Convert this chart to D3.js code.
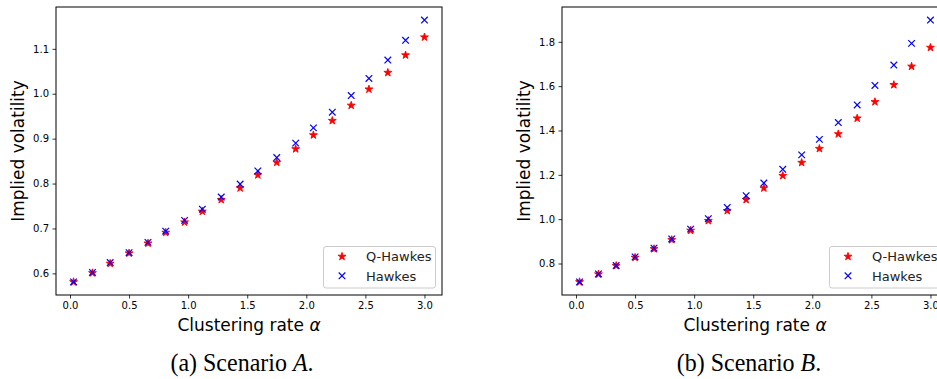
<!DOCTYPE html>
<html>
<head>
<meta charset="utf-8">
<script src="https://cdn.jsdelivr.net/npm/d3@7"></script>
<style>
  html, body { margin: 0; padding: 0; background: #fff; }
  svg { display: block; }
  .tick text { font-family: "DejaVu Sans", sans-serif; font-size: 10px; fill: #000; }
</style>
</head>
<body>
<svg id="fig" width="937" height="379"></svg>
<script>
// Clustering rate alpha (shared by both scenarios)
const alpha = [0.03, 0.19, 0.34, 0.50, 0.66, 0.81, 0.97, 1.12, 1.28, 1.44,
               1.59, 1.75, 1.91, 2.06, 2.22, 2.38, 2.53, 2.69, 2.84, 3.00];

// Scenario A implied volatilities
const qHawkesA = [0.581, 0.601, 0.622, 0.645, 0.667, 0.691, 0.714, 0.738, 0.764, 0.790,
                  0.819, 0.847, 0.877, 0.908, 0.940, 0.974, 1.010, 1.047, 1.086, 1.126];
const hawkesA  = [0.581, 0.602, 0.624, 0.646, 0.669, 0.694, 0.718, 0.743, 0.770, 0.799,
                  0.828, 0.858, 0.890, 0.924, 0.959, 0.996, 1.034, 1.075, 1.119, 1.164];

// Scenario B implied volatilities
const qHawkesB = [0.717, 0.752, 0.790, 0.827, 0.866, 0.907, 0.949, 0.993, 1.038, 1.088,
                  1.140, 1.196, 1.255, 1.318, 1.384, 1.455, 1.529, 1.606, 1.689, 1.774];
const hawkesB  = [0.717, 0.753, 0.791, 0.830, 0.869, 0.911, 0.955, 1.002, 1.053, 1.106,
                  1.163, 1.225, 1.290, 1.360, 1.436, 1.515, 1.603, 1.695, 1.793, 1.898];

// Tick values
const xTicks  = [0.0, 0.5, 1.0, 1.5, 2.0, 2.5, 3.0];
const yTicksA = [0.6, 0.7, 0.8, 0.9, 1.0, 1.1];
const yTicksB = [0.8, 1.0, 1.2, 1.4, 1.6, 1.8];

const seriesNames = ["Q-Hawkes", "Hawkes"];
const captions = [["(a) Scenario ", "A", "."], ["(b) Scenario ", "B", "."]];

const svg = d3.select("#fig");

// pad an extent by 5% on each side
function padded(values) {
  const [lo, hi] = d3.extent(values);
  const m = (hi - lo) * 0.05;
  return [lo - m, hi + m];
}

const starPath = d3.symbol(d3.symbolStar).size(19)();
const crossPath = "M-3.3,-3.3L3.3,3.3M-3.3,3.3L3.3,-3.3";

function drawStar(sel) {
  sel.attr("d", starPath).attr("fill", "#ff0000")
    .attr("stroke", "#ff0000").attr("stroke-width", 0.9).attr("stroke-linejoin", "miter");
}
function drawCross(sel) {
  sel.attr("d", crossPath).attr("fill", "none")
    .attr("stroke", "#0000ff").attr("stroke-width", 1.2);
}

function panel(opts) {
  const { left, width, top, height, q, h, yTicks, caption, captionX } = opts;
  const g = svg.append("g");

  const x = d3.scaleLinear().domain(padded(alpha)).range([left, left + width]);
  const y = d3.scaleLinear().domain(padded(q.concat(h))).range([top + height, top]);

  // axes
  const xAxis = d3.axisBottom(x).tickValues(xTicks).tickFormat(d3.format(".1f"))
    .tickSizeInner(3.5).tickSizeOuter(0).tickPadding(3.5);
  const yAxis = d3.axisLeft(y).tickValues(yTicks).tickFormat(d3.format(".1f"))
    .tickSizeInner(3.5).tickSizeOuter(0).tickPadding(3.5);

  const gx = g.append("g").attr("transform", `translate(0,${top + height})`).call(xAxis);
  const gy = g.append("g").attr("transform", `translate(${left},0)`).call(yAxis);
  [gx, gy].forEach(a => {
    a.select(".domain").remove();
    a.selectAll(".tick line").attr("stroke", "#000").attr("stroke-width", 0.8);
  });

  // frame
  g.append("rect")
    .attr("x", left).attr("y", top).attr("width", width).attr("height", height)
    .attr("fill", "none").attr("stroke", "#000").attr("stroke-width", 1);

  // Q-Hawkes stars
  g.append("g").selectAll("path").data(alpha).join("path")
    .call(drawStar)
    .attr("transform", (d, i) => `translate(${x(d)},${y(q[i])})`);

  // Hawkes crosses
  g.append("g").selectAll("path").data(alpha).join("path")
    .call(drawCross)
    .attr("transform", (d, i) => `translate(${x(d)},${y(h[i])})`);

  // legend (lower right)
  const lw = 112, lh = 41.5;
  const lx = left + width - 6.5 - lw, ly = top + height - 7 - lh;
  const lg = g.append("g");
  lg.append("rect").attr("x", lx).attr("y", ly).attr("width", lw).attr("height", lh)
    .attr("rx", 2.5).attr("fill", "#fff").attr("fill-opacity", 0.8)
    .attr("stroke", "#cccccc").attr("stroke-width", 1);
  lg.append("path").call(drawStar)
    .attr("transform", `translate(${lx + 18.5},${ly + 10})`);
  lg.append("path").call(drawCross)
    .attr("transform", `translate(${lx + 18.5},${ly + 29.3})`);
  lg.selectAll("text").data(seriesNames).join("text")
    .attr("x", lx + 42.5).attr("y", (d, i) => ly + 14.8 + i * 19.3)
    .attr("font-family", "DejaVu Sans, sans-serif").attr("font-size", 13)
    .attr("fill", "#222").text(d => d);

  // axis labels
  const xl = g.append("text")
    .attr("x", left + width / 2).attr("y", top + height + 36)
    .attr("text-anchor", "middle")
    .attr("font-family", "DejaVu Sans, sans-serif").attr("font-size", 17).attr("fill", "#000");
  xl.append("tspan").text("Clustering rate ");
  xl.append("tspan").attr("font-style", "italic").text("α");

  g.append("text")
    .attr("transform", `translate(${left - 32},${top + height / 2}) rotate(-90)`)
    .attr("text-anchor", "middle")
    .attr("font-family", "DejaVu Sans, sans-serif").attr("font-size", 17).attr("fill", "#000")
    .text("Implied volatility");

  // caption (slightly tall serif face)
  const cap = g.append("text")
    .attr("transform", `translate(${captionX},371) scale(1,1.08)`)
    .attr("text-anchor", "middle")
    .attr("font-family", "'Liberation Serif', 'Times New Roman', serif").attr("font-size", 24)
    .attr("fill", "#000");
  cap.append("tspan").text(caption[0]);
  cap.append("tspan").attr("font-style", "italic").text(caption[1]);
  cap.append("tspan").text(caption[2]);
}

panel({ left: 56, width: 386, top: 7, height: 288, q: qHawkesA, h: hawkesA,
        yTicks: yTicksA, caption: captions[0], captionX: 242 });
panel({ left: 562, width: 386, top: 7, height: 288, q: qHawkesB, h: hawkesB,
        yTicks: yTicksB, caption: captions[1], captionX: 749 });
</script>
</body>
</html>
